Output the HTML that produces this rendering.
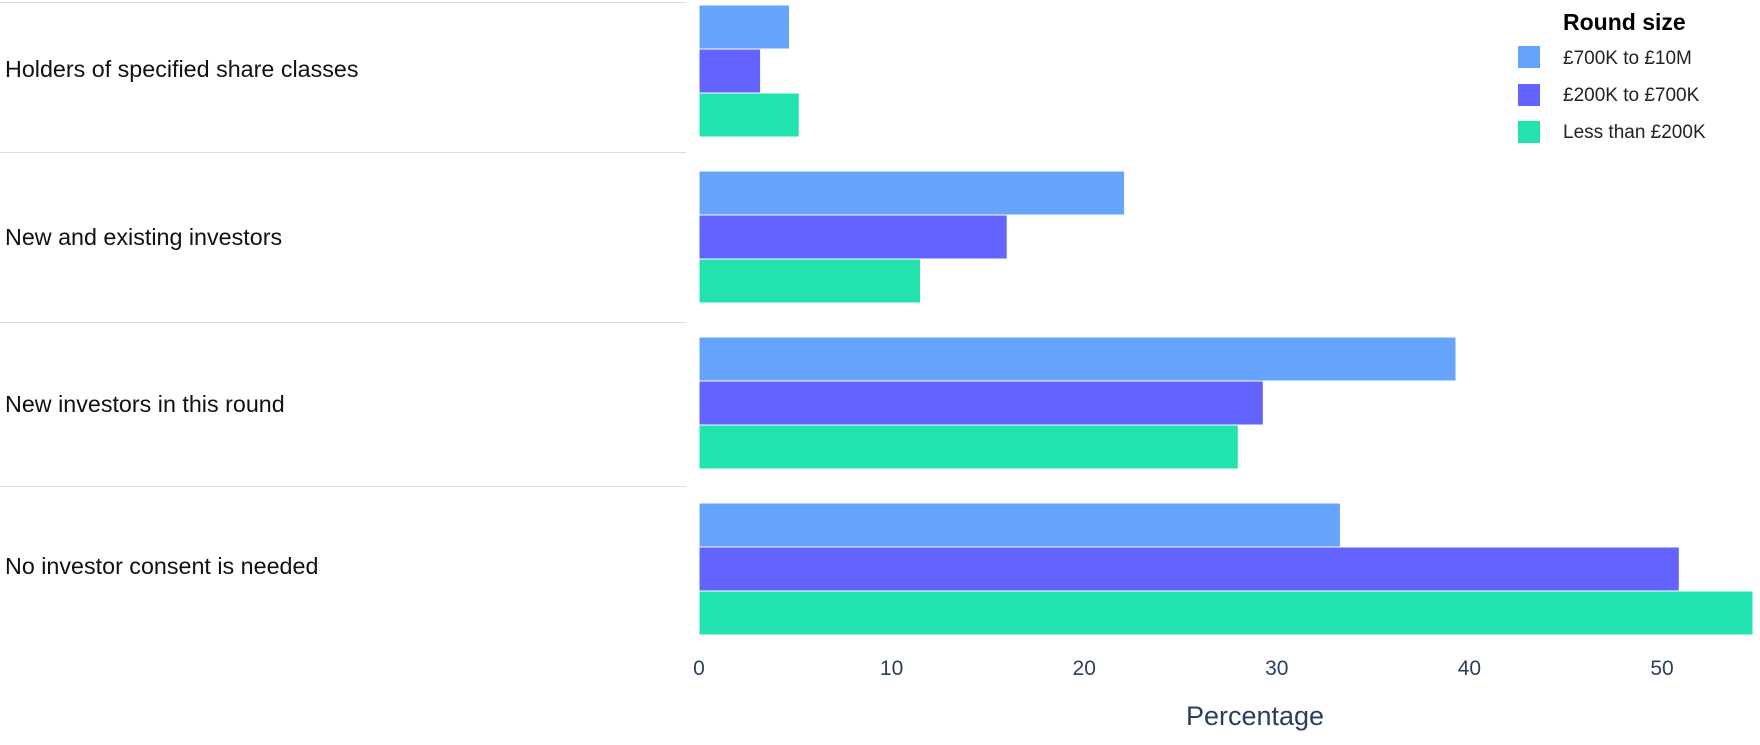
<!DOCTYPE html>
<html><head><meta charset="utf-8"><style>body{margin:0;background:#fff}</style></head><body>
<svg width="1760" height="740" xmlns="http://www.w3.org/2000/svg" font-family="Liberation Sans, sans-serif">
<rect width="1760" height="740" fill="#fff"/>
<g stroke="#dcdcdc" stroke-width="1">
<line x1="0" x2="686" y1="2.5" y2="2.5"/><line x1="0" x2="686" y1="152.5" y2="152.5"/>
<line x1="0" x2="686" y1="322.5" y2="322.5"/><line x1="0" x2="686" y1="486.5" y2="486.5"/>
</g>
<g font-size="23.3" fill="#111">
<text x="5" y="77">Holders of specified share classes</text>
<text x="5" y="245">New and existing investors</text>
<text x="5" y="412">New investors in this round</text>
<text x="5" y="574">No investor consent is needed</text>
</g>
<g stroke="#fff" stroke-width="1">
<rect x="699" y="5" width="90.5" height="44" fill="#66A3FB"/>
<rect x="699" y="49" width="61.6" height="44" fill="#6363FF"/>
<rect x="699" y="93" width="100.2" height="44" fill="#22E3AF"/>
<rect x="699" y="171" width="425.6" height="44" fill="#66A3FB"/>
<rect x="699" y="215" width="308.2" height="44" fill="#6363FF"/>
<rect x="699" y="259" width="221.5" height="44" fill="#22E3AF"/>
<rect x="699" y="337" width="757" height="44" fill="#66A3FB"/>
<rect x="699" y="381" width="564.3" height="44" fill="#6363FF"/>
<rect x="699" y="425" width="539.3" height="44" fill="#22E3AF"/>
<rect x="699" y="503" width="641.4" height="44" fill="#66A3FB"/>
<rect x="699" y="547" width="980.3" height="44" fill="#6363FF"/>
<rect x="699" y="591" width="1054" height="44" fill="#22E3AF"/>
</g>
<g font-size="21" fill="#2a3f5f" text-anchor="middle">
<text x="699" y="675">0</text><text x="891.6" y="675">10</text><text x="1084.2" y="675">20</text>
<text x="1276.8" y="675">30</text><text x="1469.4" y="675">40</text><text x="1662" y="675">50</text>
<text x="1255" y="725" font-size="27">Percentage</text>
</g>
<text x="1563" y="30" font-size="23" font-weight="bold" fill="#000">Round size</text>
<rect x="1518" y="46" width="22" height="22" fill="#66A3FB"/>
<rect x="1518" y="84" width="22" height="22" fill="#6363FF"/>
<rect x="1518" y="121" width="22" height="22" fill="#22E3AF"/>
<g font-size="19" fill="#222">
<text x="1563" y="64">£700K to £10M</text>
<text x="1563" y="101">£200K to £700K</text>
<text x="1563" y="138">Less than £200K</text>
</g>
</svg>
</body></html>
